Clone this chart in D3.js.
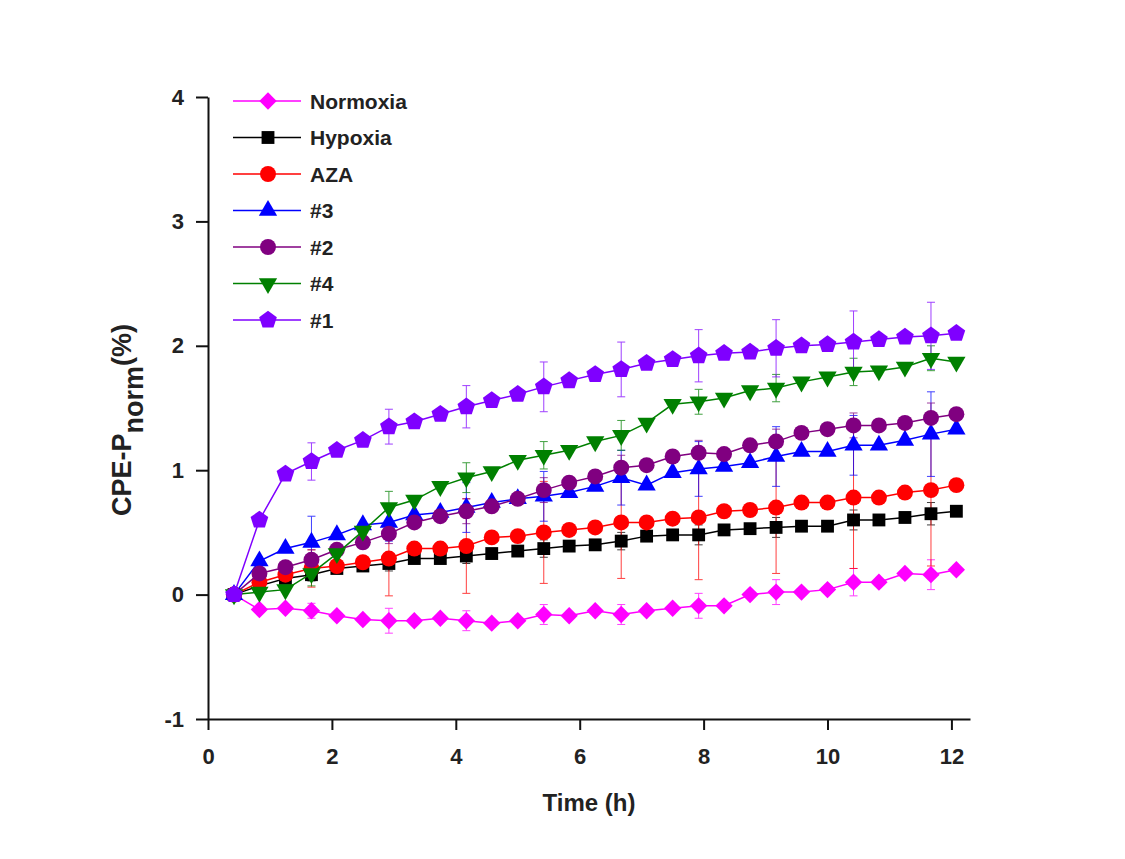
<!DOCTYPE html>
<html>
<head>
<meta charset="utf-8">
<script src="https://cdn.jsdelivr.net/npm/d3@7"></script>
<style>
  body { margin: 0; background: #fff; }
  svg text { font-family: "Liberation Sans", Arial, sans-serif; font-weight: bold; fill: #222; }
</style>
</head>
<body>
<div id="chart"></div>
<script>
"use strict";

// time points (h)
const times = [0.42, 0.83, 1.25, 1.67, 2.08, 2.5, 2.92, 3.33, 3.75, 4.17, 4.58, 5.0, 5.42, 5.83, 6.25,
  6.67, 7.08, 7.5, 7.92, 8.33, 8.75, 9.17, 9.58, 10.0, 10.42, 10.83, 11.25, 11.67, 12.08];

const normoxia = [0, -0.12, -0.11, -0.13, -0.17, -0.20, -0.21, -0.21, -0.19, -0.21, -0.23, -0.21, -0.16, -0.17, -0.13,
  -0.16, -0.13, -0.11, -0.09, -0.09, 0.00, 0.02, 0.02, 0.04, 0.10, 0.10, 0.17, 0.16, 0.20];
const hypoxia = [0, 0.07, 0.13, 0.16, 0.21, 0.23, 0.25, 0.29, 0.29, 0.31, 0.33, 0.35, 0.37, 0.39, 0.40,
  0.43, 0.47, 0.48, 0.48, 0.52, 0.53, 0.54, 0.55, 0.55, 0.60, 0.60, 0.62, 0.65, 0.67];
const aza = [0, 0.10, 0.16, 0.21, 0.23, 0.26, 0.29, 0.37, 0.37, 0.39, 0.46, 0.47, 0.50, 0.52, 0.54,
  0.58, 0.58, 0.61, 0.62, 0.67, 0.68, 0.70, 0.74, 0.74, 0.78, 0.78, 0.82, 0.84, 0.88];
const s3 = [0, 0.27, 0.37, 0.42, 0.48, 0.56, 0.58, 0.64, 0.66, 0.70, 0.74, 0.77, 0.79, 0.82, 0.87,
  0.94, 0.88, 0.98, 1.01, 1.03, 1.06, 1.11, 1.15, 1.15, 1.20, 1.20, 1.24, 1.29, 1.33];
const s2 = [0, 0.17, 0.22, 0.28, 0.36, 0.42, 0.49, 0.58, 0.63, 0.67, 0.71, 0.77, 0.84, 0.90, 0.95,
  1.02, 1.04, 1.11, 1.14, 1.13, 1.20, 1.23, 1.30, 1.33, 1.36, 1.36, 1.38, 1.42, 1.45];
const s4 = [0, 0.02, 0.04, 0.17, 0.33, 0.51, 0.70, 0.76, 0.87, 0.94, 0.99, 1.08, 1.12, 1.16, 1.23,
  1.28, 1.38, 1.53, 1.55, 1.58, 1.64, 1.66, 1.71, 1.75, 1.79, 1.80, 1.83, 1.90, 1.87];
const s1 = [0, 0.60, 0.97, 1.07, 1.16, 1.24, 1.35, 1.39, 1.45, 1.51, 1.56, 1.61, 1.67, 1.72, 1.77,
  1.81, 1.86, 1.89, 1.92, 1.94, 1.95, 1.98, 2.00, 2.01, 2.03, 2.05, 2.07, 2.08, 2.10];

// error bars only drawn at every third point
const errorIndex = [3, 6, 9, 12, 15, 18, 21, 24, 27];
const normoxiaErr = [0.06, 0.10, 0.08, 0.08, 0.08, 0.10, 0.10, 0.11, 0.12];
const hypoxiaErr = [0.05, 0.06, 0.06, 0.07, 0.07, 0.08, 0.08, 0.08, 0.09];
const azaErr = [0.15, 0.30, 0.38, 0.41, 0.45, 0.50, 0.53, 0.57, 0.61];
const s3Err = [0.21, 0.15, 0.20, 0.20, 0.22, 0.22, 0.24, 0.24, 0.34];
const s2Err = [0.08, 0.08, 0.10, 0.10, 0.10, 0.10, 0.10, 0.10, 0.12];
const s4Err = [0.10, 0.13, 0.12, 0.11, 0.12, 0.10, 0.11, 0.11, 0.10];
const s1Err = [0.15, 0.14, 0.17, 0.20, 0.22, 0.21, 0.23, 0.25, 0.27];

const xTicks = [0, 2, 4, 6, 8, 10, 12];
const yTicks = [-1, 0, 1, 2, 3, 4];

const pentagon = {
  draw(context, size) {
    const r = Math.sqrt(size / 2.378);
    for (let i = 0; i < 5; i++) {
      const a = -Math.PI / 2 + i * 2 * Math.PI / 5;
      if (i === 0) context.moveTo(r * Math.cos(a), r * Math.sin(a));
      else context.lineTo(r * Math.cos(a), r * Math.sin(a));
    }
    context.closePath();
  }
};

const series = [
  { name: "Normoxia", values: normoxia, err: normoxiaErr, color: "#ff00ff", shape: d3.symbolSquare, size: 150, rotate: 45 },
  { name: "Hypoxia", values: hypoxia, err: hypoxiaErr, color: "#000000", shape: d3.symbolSquare, size: 165, rotate: 0 },
  { name: "AZA", values: aza, err: azaErr, color: "#ff0000", shape: d3.symbolCircle, size: 200, rotate: 0 },
  { name: "#3", values: s3, err: s3Err, color: "#0000ff", shape: d3.symbolTriangle, size: 145, rotate: 0 },
  { name: "#2", values: s2, err: s2Err, color: "#800080", shape: d3.symbolCircle, size: 200, rotate: 0 },
  { name: "#4", values: s4, err: s4Err, color: "#008000", shape: d3.symbolTriangle, size: 145, rotate: 180 },
  { name: "#1", values: s1, err: s1Err, color: "#7f00ff", shape: pentagon, size: 205, rotate: 0 }
];

const width = 1125, height = 859;
const svg = d3.select("#chart").append("svg")
  .attr("width", width)
  .attr("height", height);

const x = d3.scaleLinear().domain([0, 12.3]).range([208, 970]);
const y = d3.scaleLinear().domain([-1, 4]).range([719, 97]);

// axes
const xAxis = svg.append("g")
  .attr("transform", `translate(0,${y(-1)})`)
  .call(d3.axisBottom(x).tickValues(xTicks).tickSize(11).tickSizeOuter(0).tickPadding(18).tickFormat(d => String(d)));
const yAxis = svg.append("g")
  .attr("transform", `translate(${x(0)},0)`)
  .call(d3.axisLeft(y).tickValues(yTicks).tickSize(12).tickSizeOuter(0).tickPadding(12).tickFormat(d => String(d)));

[xAxis, yAxis].forEach(ax => {
  ax.selectAll("path, line").attr("stroke", "#111").attr("stroke-width", 2);
  ax.selectAll("text").style("font-size", "22px").attr("fill", "#222");
});

svg.append("text")
  .attr("x", (x(0) + x(12.3)) / 2)
  .attr("y", 811)
  .attr("text-anchor", "middle")
  .style("font-size", "24px")
  .text("Time (h)");

const yTitle = svg.append("text")
  .attr("transform", "translate(131,420) rotate(-90)")
  .attr("text-anchor", "middle")
  .style("font-size", "27px");
yTitle.append("tspan").text("CPE-P");
yTitle.append("tspan").attr("dy", 12).text("norm");
yTitle.append("tspan").attr("dy", -12).text("(%)");

const line = d3.line()
  .x((d, i) => x(times[i]))
  .y(d => y(d));

const symbolPath = s => d3.symbol().type(s.shape).size(s.size)();

// error bars first, behind everything
series.forEach(s => {
  const g = svg.append("g").attr("stroke", s.color).attr("stroke-width", 1).attr("opacity", 0.75);
  errorIndex.forEach((k, j) => {
    const cx = x(times[k]);
    const lo = y(s.values[k] - s.err[j]);
    const hi = y(s.values[k] + s.err[j]);
    g.append("line").attr("x1", cx).attr("x2", cx).attr("y1", lo).attr("y2", hi);
    g.append("line").attr("x1", cx - 4).attr("x2", cx + 4).attr("y1", lo).attr("y2", lo);
    g.append("line").attr("x1", cx - 4).attr("x2", cx + 4).attr("y1", hi).attr("y2", hi);
  });
});

series.forEach(s => {
  svg.append("path")
    .datum(s.values)
    .attr("d", line)
    .attr("fill", "none")
    .attr("stroke", s.color)
    .attr("stroke-width", 1.5);

  svg.append("g")
    .selectAll("path")
    .data(s.values)
    .join("path")
    .attr("d", symbolPath(s))
    .attr("transform", (d, i) => `translate(${x(times[i])},${y(d)}) rotate(${s.rotate})`)
    .attr("fill", s.color);
});

// legend
const legend = svg.append("g").attr("transform", "translate(233,101)");
const rowH = 36.5;
series.forEach((s, i) => {
  const row = legend.append("g").attr("transform", `translate(0,${i * rowH})`);
  row.append("line")
    .attr("x1", 0).attr("x2", 68)
    .attr("stroke", s.color)
    .attr("stroke-width", 1.5);
  row.append("path")
    .attr("d", symbolPath(s))
    .attr("transform", `translate(35,0) rotate(${s.rotate})`)
    .attr("fill", s.color);
  row.append("text")
    .attr("x", 77)
    .attr("dy", "0.36em")
    .style("font-size", "21px")
    .text(s.name);
});
</script>
</body>
</html>
